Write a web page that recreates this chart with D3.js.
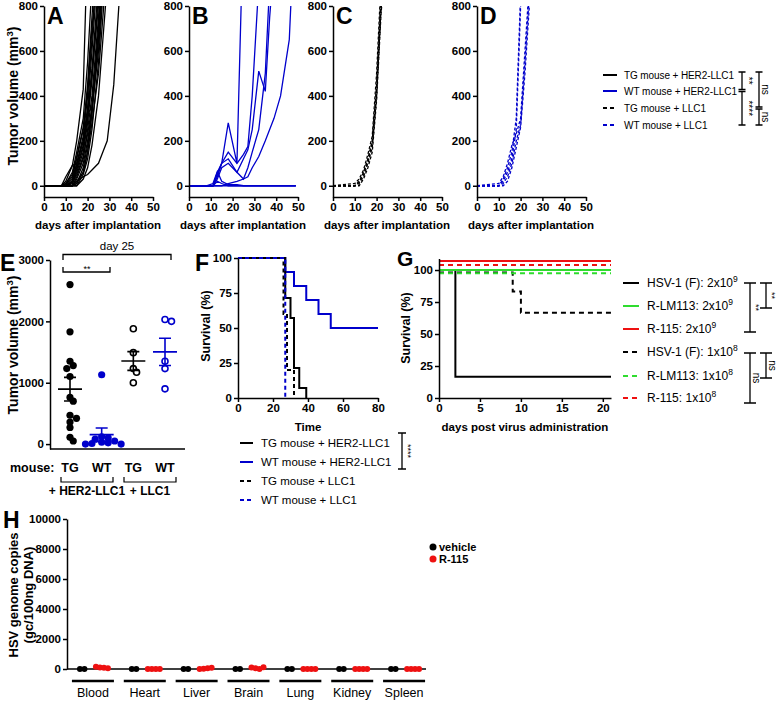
<!DOCTYPE html>
<html><head><meta charset="utf-8">
<script src="https://cdn.jsdelivr.net/npm/d3@7"></script>
<style>body{margin:0;background:#fff}svg{display:block;font-family:"Liberation Sans",Arial,sans-serif}</style>
</head><body><svg id="c" width="777" height="701"></svg>
<script>
// ---------------- DATA ----------------
const BLACK = '#000', BLUE = '#0000cc', RED = '#ee1111', GREEN = '#2fdc2f';

// Panel A: TG mouse + HER2-LLC1 (tumor volume, mm3)
const daysA = [0, 8, 10, 13, 15, 18, 20, 22, 25, 27, 29, 32, 35];
const volumesA = [
  [0,0,20,90,200,430,1100],
  [0,0,10,60,150,300,550,900],
  [0,0,5,40,120,250,450,750,1200],
  [0,0,0,30,100,220,400,650,1100],
  [0,0,0,20,80,180,330,520,900],
  [0,0,10,50,130,260,420,700,1000],
  [0,0,0,10,60,150,280,470,850],
  [0,0,0,0,40,120,250,400,750,1000],
  [0,0,0,15,70,170,300,500,800],
  [0,0,0,0,30,100,200,340,600,900],
  [0,0,0,10,50,130,230,350,650,950],
  [0,0,0,0,20,60,150,330,700,1000],
  [0,0,0,0,20,40,50,70,100,150,200,450,900],
  [0,0,40,90,100,200,350,600,1000],
  [0,0,0,20,90,200,320,350,700,1000],
  [0,0,0,0,10,80,180,320,650,1000],
  [0,0,0,0,0,50,120,250,550,850],
  [0,0,0,0,10,60,150,280,500,750,1000],
  [0,0,0,0,0,30,80,180,400,650,900]
];
// Panel B: WT mouse + HER2-LLC1
const daysB = [0, 8, 11, 13, 15, 18, 22, 25, 27, 29, 32, 35, 37, 39, 42, 46, 49];
const volumesB = [
  [0,0,0,50,100,280,100,1200],
  [0,0,0,60,100,150,100,140,175,400,900],
  [0,0,0,30,80,100,60,120,160,250,510,420,750,1000],
  [0,0,0,0,0,10,20,30,40,80,130,200,250,300,400,650,1300],
  [0,0,0,40,100,120,60,30,80,150,250,500,900],
  [0,0,10,64,20,5,5,0,0,0,0,0,0,0,0,0,0],
  [0,0,0,20,10,0,0,0,0,0,0,0,0,0,0,0,0],
  [0,0,0,0,0,0,0,0,0,0,0,0,0,0,0,0,0]
];
// Panel C: TG mouse + LLC1
const daysC = [0, 10, 12, 14, 16, 18, 20, 22, 24];
const volumesC = [
  [0,0,20,60,120,200,450,850],
  [0,0,10,40,100,170,400,800],
  [0,0,0,30,80,150,380,760,1000],
  [0,10,30,70,140,220,500,900],
  [0,0,15,50,110,190,420,780,1000]
];
// Panel D: WT mouse + LLC1
const daysD = [0, 10, 12, 14, 16, 18, 20, 22, 24];
const volumesD = [
  [0,0,30,80,150,300,850],
  [0,0,20,60,120,250,800],
  [0,0,10,40,100,200,270,550,850],
  [0,0,0,20,80,170,260,500,800],
  [0,10,40,100,180,230,300,600,900]
];
const growthLegend = ['TG mouse + HER2-LLC1', 'WT mouse + HER2-LLC1', 'TG mouse + LLC1', 'WT mouse + LLC1'];

// Panel E: day 25 tumor volumes
const eGroups = ['TG', 'WT', 'TG', 'WT'];
const eTgHer2 = [2600, 1830, 1350, 1280, 1230, 1100, 760, 700, 470, 420, 360, 270, 110, 50];
const eWtHer2 = [1130, 120, 100, 80, 50, 30, 20, 10, 0, 0];
const eTgLlc1 = [1880, 1490, 1230, 1170, 1000];
const eWtLlc1 = [2030, 2000, 1350, 1230, 900];

// Panel F: survival (time, %)
const fTgHer2 = [[0,100],[27,71.4],[30,57.1],[32,21.4],[35,7.1],[39,0]];
const fWtHer2 = [[0,100],[27,90],[32,80],[39,70],[46,60],[53,50],[80,50]];
const fTgLlc1 = [[0,100],[26,60],[28,20],[32,0]];
const fWtLlc1 = [[0,100],[27,0]];

// Panel G: survival after virus administration
const gHsv2e9 = [[0,100],[2,16.7],[21,16.7]];
const gLm2e9 = [[0,100],[21,100]];
const gR115_2e9 = [[0,107],[21,107]];
const gHsv1e8 = [[0,98],[9,83.3],[10,66.7],[21,66.7]];
const gLm1e8 = [[0,97.5],[21,97.5]];
const gR115_1e8 = [[0,104],[21,104]];
const gLabels = ['HSV-1 (F): 2x10^9', 'R-LM113: 2x10^9', 'R-115: 2x10^9', 'HSV-1 (F): 1x10^8', 'R-LM113: 1x10^8', 'R-115: 1x10^8'];

// Panel H: HSV genome copies per organ
const hOrgans = ['Blood', 'Heart', 'Liver', 'Brain', 'Lung', 'Kidney', 'Spleen'];
const hVehicle = [[0,0],[0,0],[0,0],[0,0],[0,0],[0,0],[0,0]];
const hR115 = [[150,100,80,50],[0,0,0,0],[0,20,50,80],[100,50,0,120],[0,0,0,0],[0,0,0,0],[0,0,0,0]];

// ---------------- DRAWING ----------------
const svg = d3.select('#c');
const fmt = d3.format('d');

function styleAxis(g) {
  g.attr('font-family', null).attr('font-size', null);
  g.selectAll('path,line').attr('stroke', '#000').attr('stroke-width', 1.5);
  g.selectAll('text').attr('font-size', 11.5).attr('font-weight', 'bold').attr('fill', '#000');
}
function text(x, y, s, o = {}) {
  return svg.append('text').attr('x', x).attr('y', y).text(s)
    .attr('font-size', o.size || 11).attr('font-weight', o.bold ? 'bold' : 'normal')
    .attr('text-anchor', o.anchor || 'start').attr('fill', o.fill || '#000');
}
function rotText(x, y, s, angle, o = {}) {
  return svg.append('text').attr('transform', `translate(${x},${y}) rotate(${angle})`)
    .attr('text-anchor', 'middle').attr('font-size', o.size || 11)
    .attr('font-weight', o.bold ? 'bold' : 'normal').text(s);
}
function letter(x, y, s, size) { text(x, y, s, {size: size || 23, bold: true}); }
function bracketV(x, y1, y2, half, label, size) {
  svg.append('path').attr('d', `M${x - half},${y1}H${x + half}M${x},${y1}V${y2}M${x - half},${y2}H${x + half}`)
    .attr('stroke', '#000').attr('stroke-width', 1.3).attr('fill', 'none');
  rotText(x + 3, (y1 + y2) / 2, label, 90, {size: size || 10});
}
function tumorLabel(x, y) {
  const t = rotText(x, y, 'Tumor volume (mm', -90, {size: 14, bold: true});
  t.append('tspan').attr('dy', -5).attr('font-size', 9.5).text('3');
  t.append('tspan').attr('dy', 5).text(')');
}

// ---- Panels A-D ----
function growthPanel(x0, L, days, series, color, dashed, withYLabel) {
  const x = d3.scaleLinear().domain([0, 50]).range([x0, x0 + 109]);
  const y = d3.scaleLinear().domain([-50, 800]).range([197, 6]);
  const cid = 'clip' + L;
  svg.append('clipPath').attr('id', cid).append('rect')
    .attr('x', x0).attr('y', y(800)).attr('width', 115).attr('height', 197 - y(800));
  const line = d3.line().x(d => x(d[0])).y(d => y(d[1]));
  svg.append('g').attr('clip-path', `url(#${cid})`).selectAll('path').data(series).join('path')
    .attr('d', s => line(s.map((v, i) => [days[i], v])))
    .attr('fill', 'none').attr('stroke', color).attr('stroke-width', 1.3)
    .attr('stroke-dasharray', dashed ? '3,2' : null);
  svg.append('g').attr('transform', `translate(${x0},0)`)
    .call(d3.axisLeft(y).tickValues([0, 200, 400, 600, 800]).tickFormat(fmt).tickSize(4).tickSizeOuter(0).tickPadding(2)).call(styleAxis);
  svg.append('g').attr('transform', `translate(0,197)`)
    .call(d3.axisBottom(x).tickValues([0, 10, 20, 30, 40, 50]).tickFormat(fmt).tickSize(4).tickSizeOuter(0).tickPadding(2)).call(styleAxis);
  text(x0 + 54, 229, 'days after implantation', {size: 11.5, bold: true, anchor: 'middle'});
  letter(x0 + 3, 24, L);
  if (withYLabel) tumorLabel(18, 96);
}
growthPanel(44, 'A', daysA, volumesA, BLACK, false, true);
growthPanel(189, 'B', daysB, volumesB, BLUE, false, false);
growthPanel(333, 'C', daysC, volumesC, BLACK, true, false);
growthPanel(477, 'D', daysD, volumesD, BLUE, true, false);

// growth legend
const glColors = [BLACK, BLUE, BLACK, BLUE];
growthLegend.forEach((s, i) => {
  const yy = [75, 91, 108, 125][i];
  svg.append('line').attr('x1', 603).attr('x2', 617).attr('y1', yy).attr('y2', yy)
    .attr('stroke', glColors[i]).attr('stroke-width', 2).attr('stroke-dasharray', i > 1 ? '4,3' : null);
  text(624, yy + 4, s, {size: 10}).attr('textLength', i === 0 ? 110 : (i === 1 ? 113 : null));
});
bracketV(742, 72, 89.5, 3.5, '**', 10);
bracketV(742, 91.5, 125, 3.5, '****', 10);
bracketV(759, 72, 107, 3.5, 'ns', 10);
bracketV(759, 109, 125, 3.5, 'ns', 10);

// ---- Panel E ----
{
  const y = d3.scaleLinear().domain([-80, 3000]).range([449, 260]);
  const x = d3.scalePoint().domain([0, 1, 2, 3]).range([70, 165]);
  svg.append('g').attr('transform', 'translate(50,0)')
    .call(d3.axisLeft(y).tickValues([0, 1000, 2000, 3000]).tickFormat(fmt).tickSize(4).tickSizeOuter(0).tickPadding(2)).call(styleAxis);
  svg.append('line').attr('x1', 50).attr('x2', 185).attr('y1', 449).attr('y2', 449).attr('stroke', '#000').attr('stroke-width', 1.5);
  const r = 3.6;
  function swarm(vals, cx) {
    const placed = [];
    return vals.map(v => {
      const py = y(v); let px = cx;
      for (let k = 0; k < 60; k++) {
        const cand = cx + (k === 0 ? 0 : (k % 2 ? 1 : -1) * Math.ceil(k / 2) * r * 0.9);
        if (placed.every(p => Math.hypot(p[0] - cand, p[1] - py) >= 1.3 * r)) { px = cand; break; }
      }
      placed.push([px, py]); return [px, py, v];
    });
  }
  const groups = [
    {vals: eTgHer2, color: BLACK, filled: true},
    {vals: eWtHer2, color: BLUE, filled: true},
    {vals: eTgLlc1, color: BLACK, filled: false},
    {vals: eWtLlc1, color: BLUE, filled: false}
  ];
  groups.forEach((gp, i) => {
    const cx = x(i);
    const pts = swarm(gp.vals, cx);
    svg.append('g').selectAll('circle').data(pts).join('circle')
      .attr('cx', d => d[0]).attr('cy', d => d[1]).attr('r', gp.filled ? r : r - 0.6)
      .attr('fill', gp.filled ? gp.color : '#fff').attr('stroke', gp.color).attr('stroke-width', gp.filled ? 0 : 1.6);
    const m = d3.mean(gp.vals), sem = d3.deviation(gp.vals) / Math.sqrt(gp.vals.length);
    svg.append('path').attr('d', `M${cx - 12},${y(m)}H${cx + 12}M${cx},${y(m - sem)}V${y(m + sem)}M${cx - 6},${y(m + sem)}H${cx + 6}M${cx - 6},${y(m - sem)}H${cx + 6}`)
      .attr('stroke', gp.color).attr('stroke-width', 1.6).attr('fill', 'none');
    text(cx, 472, eGroups[i], {size: 12.5, bold: true, anchor: 'middle'});
  });
  text(10, 472, 'mouse:', {size: 12.5, bold: true});
  svg.append('path').attr('d', 'M61,477V482H113V477M124,477V482H176V477').attr('stroke', '#000').attr('stroke-width', 1.2).attr('fill', 'none');
  text(87, 495, '+ HER2-LLC1', {size: 12, bold: true, anchor: 'middle'});
  text(150, 495, '+ LLC1', {size: 12, bold: true, anchor: 'middle'});
  svg.append('path').attr('d', 'M63,260V254.5H171V260').attr('stroke', '#000').attr('stroke-width', 1.3).attr('fill', 'none');
  text(117, 250, 'day 25', {size: 11.5, anchor: 'middle'});
  svg.append('path').attr('d', 'M63,267V272H110V267').attr('stroke', '#000').attr('stroke-width', 1.3).attr('fill', 'none');
  text(87, 272, '**', {size: 9, anchor: 'middle'});
  letter(0, 271, 'E');
  tumorLabel(18, 345);
}

// ---- Panel F ----
{
  const x = d3.scaleLinear().domain([0, 80]).range([238, 378]);
  const y = d3.scaleLinear().domain([0, 100]).range([398, 258]);
  const line = d3.line().curve(d3.curveStepAfter).x(d => x(d[0])).y(d => y(d[1]));
  const series = [
    {d: fWtHer2, c: BLUE, dash: null},
    {d: fTgHer2, c: BLACK, dash: null},
    {d: fTgLlc1, c: BLACK, dash: '4,3'},
    {d: fWtLlc1, c: BLUE, dash: '4,3'}
  ];
  series.forEach(s => svg.append('path').attr('d', line(s.d)).attr('fill', 'none')
    .attr('stroke', s.c).attr('stroke-width', 2).attr('stroke-dasharray', s.dash));
  svg.append('g').attr('transform', 'translate(238,0)')
    .call(d3.axisLeft(y).tickValues([0, 25, 50, 75, 100]).tickFormat(fmt).tickSize(4).tickSizeOuter(0).tickPadding(2)).call(styleAxis);
  svg.append('g').attr('transform', 'translate(0,398)')
    .call(d3.axisBottom(x).tickValues([0, 20, 40, 60, 80]).tickFormat(fmt).tickSize(4).tickSizeOuter(0).tickPadding(2)).call(styleAxis);
  text(308, 431, 'Time', {size: 11.5, bold: true, anchor: 'middle'});
  rotText(210, 326, 'Survival (%)', -90, {size: 12.5, bold: true});
  letter(195, 271, 'F');
  const cols = [BLACK, BLUE, BLACK, BLUE];
  growthLegend.forEach((s, i) => {
    const yy = [443, 462, 481, 500][i];
    svg.append('line').attr('x1', 240).attr('x2', 253).attr('y1', yy).attr('y2', yy)
      .attr('stroke', cols[i]).attr('stroke-width', 2).attr('stroke-dasharray', i > 1 ? '4,3' : null);
    text(261, yy + 4, s, {size: 11.5});
  });
  bracketV(402, 433, 469, 4, '****', 9);
}

// ---- Panel G ----
{
  const x = d3.scaleLinear().domain([0, 21]).range([439, 611]);
  const y = d3.scaleLinear().domain([0, 109]).range([398, 258.5]);
  const line = d3.line().curve(d3.curveStepAfter).x(d => x(d[0])).y(d => y(d[1]));
  const series = [
    {d: gHsv1e8, c: BLACK, dash: '5,4'},
    {d: gHsv2e9, c: BLACK, dash: null},
    {d: gLm2e9, c: GREEN, dash: null},
    {d: gLm1e8, c: GREEN, dash: '5,4'},
    {d: gR115_2e9, c: RED, dash: null},
    {d: gR115_1e8, c: RED, dash: '5,4'}
  ];
  series.forEach(s => svg.append('path').attr('d', line(s.d)).attr('fill', 'none')
    .attr('stroke', s.c).attr('stroke-width', 2).attr('stroke-dasharray', s.dash));
  svg.append('g').attr('transform', 'translate(439,0)')
    .call(d3.axisLeft(y).tickValues([0, 25, 50, 75, 100]).tickFormat(fmt).tickSize(4).tickSizeOuter(0).tickPadding(2)).call(styleAxis);
  svg.append('g').attr('transform', 'translate(0,398)')
    .call(d3.axisBottom(x).tickValues([0, 5, 10, 15, 20]).tickFormat(fmt).tickSize(4).tickSizeOuter(0).tickPadding(2)).call(styleAxis);
  text(525, 431, 'days post virus administration', {size: 11.5, bold: true, anchor: 'middle'});
  rotText(410, 328, 'Survival (%)', -90, {size: 12.5, bold: true});
  letter(397, 266, 'G', 21);
  const legCols = [BLACK, GREEN, RED, BLACK, GREEN, RED];
  gLabels.forEach((s, i) => {
    const yy = [283, 306, 329, 352, 376, 398][i];
    svg.append('line').attr('x1', 623).attr('x2', 639).attr('y1', yy).attr('y2', yy)
      .attr('stroke', legCols[i]).attr('stroke-width', 2).attr('stroke-dasharray', i > 2 ? '5,4' : null);
    const [base, exp] = s.split('^');
    const t = text(647, yy + 4, base, {size: 12});
    t.append('tspan').attr('dy', -5).attr('font-size', 8.5).text(exp);
  });
  bracketV(750, 283, 332, 6, '**', 9);
  bracketV(766, 283, 308, 6, '**', 9);
  bracketV(750, 353, 403, 6, 'ns', 10);
  bracketV(766, 353, 378, 6, 'ns', 10);
}

// ---- Panel H ----
{
  const y = d3.scaleLinear().domain([0, 10000]).range([669, 519]);
  const x = d3.scaleBand().domain(hOrgans).range([67, 430]);
  svg.append('g').attr('transform', 'translate(67,0)')
    .call(d3.axisLeft(y).tickValues([0, 2000, 4000, 6000, 8000, 10000]).tickFormat(fmt).tickSize(4).tickSizeOuter(0).tickPadding(2)).call(styleAxis);
  svg.append('line').attr('x1', 67).attr('x2', 426).attr('y1', 669).attr('y2', 669).attr('stroke', '#000').attr('stroke-width', 1.5);
  hOrgans.forEach((o, i) => {
    const cx = x(o) + x.bandwidth() / 2;
    svg.append('line').attr('x1', cx - 21).attr('x2', cx + 21).attr('y1', 681).attr('y2', 681).attr('stroke', '#000').attr('stroke-width', 2.5);
    text(cx, 697, o, {size: 12.5, anchor: 'middle'});
    hVehicle[i].forEach((v, j) => svg.append('circle').attr('cx', cx - 13 + j * 4.5).attr('cy', y(v)).attr('r', 3).attr('fill', BLACK));
    hR115[i].forEach((v, j) => svg.append('circle').attr('cx', cx + 3 + j * 4).attr('cy', y(v)).attr('r', 3).attr('fill', RED));
  });
  letter(3, 528, 'H');
  rotText(18, 595, 'HSV genome copies', -90, {size: 13, bold: true});
  rotText(33, 595, '(gc/100ng DNA)', -90, {size: 13, bold: true});
  svg.append('circle').attr('cx', 433).attr('cy', 547).attr('r', 3.5).attr('fill', BLACK);
  text(439, 551, 'vehicle', {size: 11, bold: true});
  svg.append('circle').attr('cx', 433).attr('cy', 559).attr('r', 3.5).attr('fill', RED);
  text(439, 563, 'R-115', {size: 11, bold: true});
}
</script></body></html>
